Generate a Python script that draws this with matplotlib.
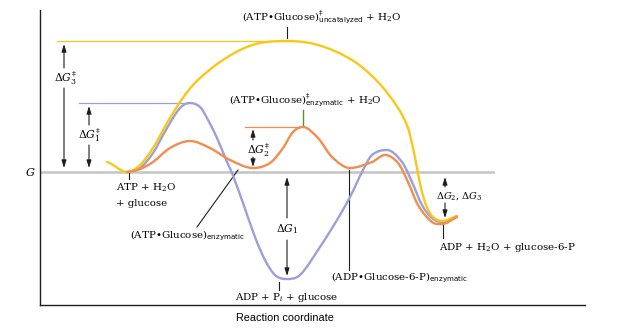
import matplotlib.pyplot as plt
import numpy as np
from matplotlib.path import Path
from matplotlib.patches import PathPatch

plt.rcParams['mathtext.fontset'] = 'dejavuserif'
plt.rcParams['font.family'] = 'DejaVu Serif'

# free energy along the reaction coordinate, G = 0 for ATP + H2O + glucose
uncat_x = [67, 87, 100, 113, 127, 140, 153, 167, 180, 200, 220, 247, 278, 312,
           338, 358, 368, 373, 377, 381, 386, 392, 402, 417]
uncat_G = [10, 0, 7, 24, 49, 70, 87, 100, 110, 122, 129, 131, 127, 112,
           90, 64, 44, 24, 4, -16, -33, -44, -49, -44]

hydro_x = [87, 100, 113, 127, 140, 150, 160, 167, 177, 187, 192, 203, 215, 225,
           235, 246, 260, 280, 297, 310, 323, 332, 347, 362, 372, 382, 392, 402, 417]
hydro_G = [0, 4, 19, 44, 64, 69, 65, 54, 34, 10, -1, -31, -65, -88,
           -103, -107, -103, -75, -48, -25, 2, 17, 22, 10, -10, -33, -46, -50, -44]

kinase_x = [87, 100, 113, 130, 150, 170, 190, 213, 230, 243, 253, 263, 278, 292,
            310, 332, 345, 358, 368, 378, 392, 402, 417]
kinase_G = [0, 3, 10, 24, 31, 24, 12, 4, 9, 24, 40, 45, 34, 15,
            4, 10, 17, 9, -10, -33, -50, -52, -45]

YELLOW = '#F9C817'
BLUE = '#9C9FDA'
ORANGE = '#F08D4F'
INK = '#1e1e1e'


def smooth_path(x, y):
    # Catmull-Rom style cubic through the points, flat at every turning point
    x = np.asarray(x, float)
    y = np.asarray(y, float)
    h = np.diff(x)
    d = np.diff(y) / h
    m = np.zeros_like(x)
    for k in range(1, len(x) - 1):
        if d[k - 1] * d[k] > 0:
            m[k] = (y[k + 1] - y[k - 1]) / (x[k + 1] - x[k - 1])
    m[0] = d[0] * 0.5
    m[-1] = d[-1]
    verts = [(x[0], y[0])]
    for k in range(len(h)):
        verts += [(x[k] + h[k] / 3, y[k] + m[k] * h[k] / 3),
                  (x[k + 1] - h[k] / 3, y[k + 1] - m[k + 1] * h[k] / 3),
                  (x[k + 1], y[k + 1])]
    codes = [Path.MOVETO] + [Path.CURVE4] * (3 * len(h))
    return Path(verts, codes)


fig = plt.figure(figsize=(6.27, 3.30), dpi=100)
ax = fig.add_axes([40 / 627, 25 / 330, 545 / 627, 295 / 330])
ax.set_xlim(0, 545)
ax.set_ylim(-133, 162)
for s in ['top', 'right']:
    ax.spines[s].set_visible(False)
for s in ['left', 'bottom']:
    ax.spines[s].set_color(INK)
    ax.spines[s].set_linewidth(1.0)
ax.set_xticks([])
ax.set_yticks([])

# level of the reactants
ax.plot([0, 453], [0, 0], color='#c4c4c4', lw=1.8, zorder=1)

top3 = max(uncat_G)
top1 = max(hydro_G)
top2 = max(kinase_G[5:15])
low1 = min(hydro_G)
prod = min(uncat_G)

ax.plot([17, uncat_x[np.argmax(uncat_G)]], [top3, top3], color=YELLOW, lw=0.9, zorder=2)
ax.plot([39, hydro_x[np.argmax(hydro_G)]], [top1, top1], color=BLUE, lw=0.9, zorder=2)
ax.plot([205, 263], [top2, top2], color=ORANGE, lw=0.9, zorder=2)

for xs, gs, c, z in [(hydro_x, hydro_G, BLUE, 3), (uncat_x, uncat_G, YELLOW, 4),
                     (kinase_x, kinase_G, ORANGE, 5)]:
    ax.add_patch(PathPatch(smooth_path(xs, gs), fill=False, ec=c, lw=1.7,
                           capstyle='round', joinstyle='round', zorder=z))


def arrow(x, g0, g1):
    ax.annotate('', xy=(x, g1), xytext=(x, g0),
                arrowprops=dict(arrowstyle='-|>,head_length=0.45,head_width=0.14',
                                color=INK, lw=0.8, shrinkA=0, shrinkB=0))


fs = 7.4
arrow(24, 104, top3 - 3)
arrow(24, 84, 4)
ax.text(25, 94, r'$\Delta G_3^{\ddagger}$', fontsize=fs + 0.4, ha='center', va='center')
arrow(49, 47, top1 - 3)
arrow(49, 27, 4)
ax.text(49, 37, r'$\Delta G_1^{\ddagger}$', fontsize=fs + 0.4, ha='center', va='center')
arrow(213, 32, top2 - 2)
arrow(213, 15, 5)
ax.text(218, 22, r'$\Delta G_2^{\ddagger}$', fontsize=fs + 0.4, ha='center', va='center')
arrow(247, -46, -5)
arrow(247, -68, low1 + 3)
ax.text(247, -57, r'$\Delta G_1$', fontsize=fs + 0.4, ha='center', va='center')
arrow(405, -15, -5)
arrow(405, -31, prod + 3)
ax.text(419, -24, r'$\Delta G_2$, $\Delta G_3$', fontsize=fs - 0.4, ha='center', va='center')

# leader lines to the labelled states
ax.plot([247, 247], [134, 145], color=INK, lw=0.8)
ax.plot([263, 263], [46, 62], color='#5f8f35', lw=1.0)
ax.plot([89, 89], [-1, -7], color=INK, lw=0.8)
ax.plot([198, 157], [2, -55], color=INK, lw=0.8)
ax.plot([239, 239], [-110, -118], color=INK, lw=0.8)
ax.plot([309, 309], [2, -98], color=INK, lw=0.8)
ax.plot([403, 403], [-53, -66], color=INK, lw=0.8)

ax.text(202, 155, r'(ATP•Glucose)$^{\ddagger}_{\mathsf{uncatalyzed}}$ + H$_2$O',
        fontsize=fs, ha='left', va='center')
ax.text(189, 72, r'(ATP•Glucose)$^{\ddagger}_{\mathsf{enzymatic}}$ + H$_2$O',
        fontsize=fs, ha='left', va='center')
ax.text(76, -16, r'ATP + H$_2$O', fontsize=fs, ha='left', va='center')
ax.text(76, -31, '+ glucose', fontsize=fs, ha='left', va='center')
ax.text(90, -64, r'(ATP•Glucose)$_{\mathsf{enzymatic}}$', fontsize=fs, ha='left', va='center')
ax.text(247, -125, r'ADP + P$_i$ + glucose', fontsize=fs, ha='center', va='center')
ax.text(291, -106, r'(ADP•Glucose-6-P)$_{\mathsf{enzymatic}}$', fontsize=fs,
        ha='left', va='center')
ax.text(399, -76, r'ADP + H$_2$O + glucose-6-P', fontsize=fs, ha='left', va='center')
ax.text(-10, 0, r'$G$', fontsize=fs + 0.6, ha='center', va='center')
ax.text(245, -146, 'Reaction coordinate', fontsize=7.8, ha='center', va='center',
        family='Liberation Sans')

fig.savefig('out.png', dpi=100)
